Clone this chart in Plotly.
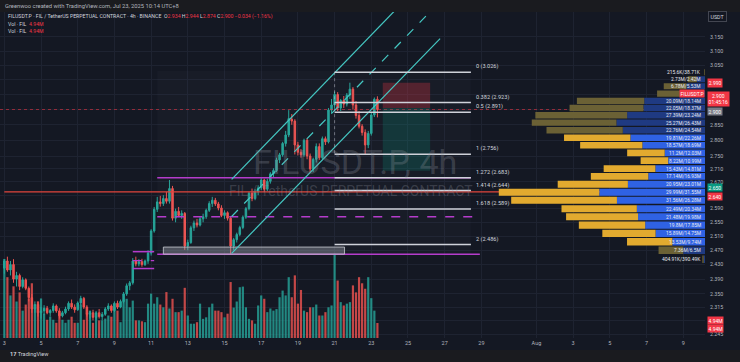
import math
from datetime import datetime, timedelta
import plotly.graph_objects as go

# ---------------- data ----------------
opens = [2.420,2.440,2.415,2.430,2.390,2.400,2.370,2.388,2.365,2.340,2.310,2.322,
         2.300,2.305,2.312,2.300,2.306,2.318,2.305,2.292,2.300,2.310,2.325,2.315,
         2.308,2.326,2.338,2.315,2.296,2.300,2.288,2.300,2.290,2.296,2.310,2.318,
         2.306,2.325,2.315,2.330,2.350,2.372,2.380,2.440,2.432,2.438,2.430,2.440,
         2.462,2.525,2.588,2.610,2.605,2.620,2.612,2.650,2.562,2.582,2.570,2.576,
         2.482,2.492,2.534,2.548,2.542,2.560,2.566,2.585,2.605,2.615,2.604,2.592,
         2.570,2.578,2.562,2.482,2.500,2.515,2.535,2.565,2.590,2.636,2.620,2.640,
         2.652,2.676,2.648,2.672,2.695,2.705,2.738,2.754,2.790,2.817,2.868,2.862,
         2.785,2.762,2.754,2.800,2.750,2.710,2.740,2.780,2.745,2.805,2.795,2.898,
         2.915,2.950,2.905,2.930,2.918,2.948,2.968,2.915,2.880,2.845,2.825,2.785,
         2.822,2.882,2.934]
highs = [2.445,2.452,2.440,2.445,2.410,2.405,2.395,2.392,2.370,2.350,2.330,2.330,
         2.315,2.320,2.318,2.310,2.325,2.322,2.312,2.305,2.316,2.330,2.335,2.322,
         2.330,2.345,2.342,2.320,2.305,2.308,2.305,2.310,2.302,2.315,2.325,2.322,
         2.330,2.332,2.335,2.355,2.378,2.385,2.448,2.452,2.445,2.446,2.444,2.470,
         2.530,2.595,2.625,2.628,2.630,2.640,2.676,2.658,2.590,2.595,2.585,2.580,
         2.500,2.540,2.555,2.560,2.565,2.575,2.590,2.612,2.625,2.622,2.610,2.600,
         2.585,2.582,2.568,2.505,2.520,2.540,2.570,2.595,2.640,2.650,2.648,2.660,
         2.685,2.680,2.680,2.700,2.712,2.745,2.760,2.795,2.830,2.898,2.885,2.868,
         2.795,2.772,2.805,2.806,2.758,2.745,2.790,2.790,2.812,2.812,2.905,2.935,
         2.960,2.958,2.935,2.945,2.955,2.990,2.975,2.928,2.895,2.852,2.835,2.830,
         2.890,2.940,2.944]
lows = [2.405,2.410,2.400,2.380,2.370,2.360,2.365,2.360,2.330,2.300,2.300,2.290,
        2.285,2.295,2.296,2.290,2.300,2.300,2.285,2.288,2.296,2.305,2.310,2.300,
        2.305,2.320,2.310,2.290,2.285,2.280,2.282,2.285,2.280,2.292,2.305,2.300,
        2.302,2.310,2.312,2.325,2.345,2.360,2.375,2.425,2.425,2.424,2.426,2.432,
        2.455,2.520,2.580,2.596,2.598,2.605,2.605,2.555,2.550,2.565,2.560,2.471,
        2.470,2.488,2.525,2.535,2.538,2.550,2.560,2.580,2.595,2.598,2.585,2.565,
        2.560,2.555,2.459,2.470,2.492,2.510,2.530,2.560,2.585,2.612,2.615,2.630,
        2.645,2.640,2.642,2.665,2.685,2.700,2.728,2.748,2.780,2.810,2.850,2.755,
        2.752,2.745,2.748,2.740,2.700,2.700,2.730,2.738,2.740,2.785,2.790,2.885,
        2.905,2.895,2.895,2.905,2.910,2.935,2.900,2.870,2.838,2.815,2.754,2.775,
        2.815,2.875,2.874]
closes = [2.440,2.415,2.430,2.390,2.400,2.370,2.388,2.365,2.340,2.310,2.322,2.300,
          2.305,2.312,2.300,2.306,2.318,2.305,2.292,2.300,2.310,2.325,2.315,2.308,
          2.326,2.338,2.315,2.296,2.300,2.288,2.300,2.290,2.296,2.310,2.318,2.306,
          2.325,2.315,2.330,2.350,2.372,2.380,2.440,2.432,2.438,2.430,2.440,2.462,
          2.525,2.588,2.610,2.605,2.620,2.612,2.650,2.562,2.582,2.570,2.576,2.482,
          2.492,2.534,2.548,2.542,2.560,2.566,2.585,2.605,2.615,2.604,2.592,2.570,
          2.578,2.562,2.482,2.500,2.515,2.535,2.565,2.590,2.636,2.620,2.640,2.652,
          2.676,2.648,2.672,2.695,2.705,2.738,2.754,2.790,2.817,2.870,2.862,2.785,
          2.762,2.754,2.800,2.750,2.710,2.740,2.780,2.745,2.805,2.795,2.898,2.915,
          2.950,2.905,2.930,2.918,2.948,2.968,2.915,2.880,2.845,2.825,2.785,2.822,
          2.882,2.934,2.900]
volumes_m = [26,20,14,17,12,15,9,11,13,18,10,12,
             13,8,6,7,6,5,8,6,5,6,7,5,
             5,11,6,8,9,5,7,5.8,5.8,6.4,7.4,7.0,
             10.1,9.0,5.2,12.3,12.9,10.1,12.3,5.8,5.8,5.5,5.2,11.3,
             14.6,11.3,13.4,11.0,10.1,15.1,9.7,12.9,8.5,8.5,9.0,16.5,
             7.4,4.7,4.7,5.2,11.3,6.3,6.8,10.1,11.3,9.0,9.0,8.5,
             6.8,8.0,18.4,10.0,12.0,16.7,16.9,10.1,6.3,5.8,4.7,10.7,
             14.0,12.9,8.5,9.7,9.0,9.5,13.4,15.6,14.0,20.0,13.4,20.6,
             11.3,15.8,9.0,8.5,10.1,10.1,11.0,7.4,7.4,8.5,10.1,10.7,
             27.7,18.9,11.8,10.7,11.3,11.8,17.3,15.0,20.0,18.0,16.2,20.0,
             13.1,9.0,4.94]
first_bar = datetime(2025, 7, 3, 0, 0)
bar_hours = 4

price_ticks = [3.15, 3.10, 3.05, 3.00, 2.95, 2.90, 2.85, 2.80, 2.75, 2.71, 2.67, 2.63,
               2.59, 2.55, 2.51, 2.47, 2.43, 2.39, 2.35, 2.315, 2.28, 2.245]
# ticks whose text is covered by price badges in the picture
price_ticks_covered = [3.00, 2.95, 2.90, 2.63, 2.28]
date_ticks = ["2025-07-03", "2025-07-05", "2025-07-07", "2025-07-09", "2025-07-11",
              "2025-07-13", "2025-07-15", "2025-07-17", "2025-07-19", "2025-07-21",
              "2025-07-23", "2025-07-25", "2025-07-27", "2025-07-29", "2025-08-01",
              "2025-08-03", "2025-08-05", "2025-08-07", "2025-08-09"]
date_labels = ["3", "5", "7", "9", "11", "13", "15", "17", "19", "21", "23", "25",
               "27", "29", "Aug", "3", "5", "7", "9"]

# visible-range volume profile rows (price centre, first value = yellow, second = blue)
vp_prices = [3.026, 3.002, 2.978, 2.953, 2.929, 2.905, 2.881, 2.857, 2.832, 2.808,
             2.784, 2.760, 2.736, 2.711, 2.687, 2.663, 2.639, 2.615, 2.590, 2.566,
             2.542, 2.518, 2.494, 2.470, 2.445]
vp_yellow = [0.2156, 2.73, 6.78, 7.6, 20.09, 22.05, 27.39, 25.27, 22.76, 19.81,
             18.57, 11.2, 8.22, 15.43, 17.14, 20.95, 29.99, 31.56, 22.49, 21.48,
             19.8, 15.89, 13.53, 7.36, 0.40491]
vp_blue = [0.03871, 2.42, 5.53, 6.7, 18.14, 18.37, 23.24, 26.43, 24.54, 22.26,
           18.69, 12.03, 10.99, 14.81, 16.93, 23.01, 31.55, 26.28, 20.34, 19.98,
           17.85, 14.75, 9.74, 6.5, 0.39049]
# row 4 label is hidden behind the symbol badge in the picture
vp_labels = ["215.6K/38.71K", "2.73M/2.42M", "6.78M/5.53M", "", "20.09M/18.14M",
             "22.05M/18.37M", "27.39M/23.24M", "25.27M/26.43M", "22.76M/24.54M",
             "19.81M/22.26M", "18.57M/18.69M", "11.2M/12.03M", "8.22M/10.99M",
             "15.43M/14.81M", "17.14M/16.93M", "20.95M/23.01M", "29.99M/31.55M",
             "31.56M/26.28M", "22.49M/20.34M", "21.48M/19.98M", "19.8M/17.85M",
             "15.89M/14.75M", "13.53M/9.74M", "7.36M/6.5M", "404.91K/390.49K"]
vp_value_area = [0, 0, 0, 0, 0, 0, 0, 0, 0, 1, 1, 1, 1, 1, 1, 1, 1, 1, 1, 1, 1, 1, 1, 0, 0]

fib_names = ["0", "0.382", "0.5", "1", "1.272", "1.414", "1.618", "2"]
fib_prices = [3.026, 2.923, 2.891, 2.756, 2.683, 2.644, 2.589, 2.486]

last_price = 2.900
poc_price = 2.640

# ---------------- styling ----------------
BG = "#141823"
GRID = "#1e2331"
TXT = "#b2b5be"
UP = "#26a69a"
DN = "#ef5350"
MAG = "#b53ccc"
CYAN = "#45c8c3"
FIBC = "#cfd2da"
FONT = "Roboto"

n = len(opens)
times = [first_bar + timedelta(hours=bar_hours * i) for i in range(n)]
x_start = "2025-07-02 18:20"
x_end = "2025-08-10 04:30"
y_lo, y_hi = 2.2348, 3.241

fig = go.Figure()


def line(xs, ys, color, width=1.0, dash="solid", xa="x", ya="y2", opacity=1.0):
    fig.add_trace(go.Scatter(x=xs, y=ys, mode="lines", xaxis=xa, yaxis=ya,
                             line=dict(color=color, width=width, dash=dash),
                             opacity=opacity, hoverinfo="skip", showlegend=False))


def box(x0, x1, p0, p1, fill, border=None, xa="x", ya="y2"):
    fig.add_trace(go.Scatter(x=[x0, x1, x1, x0, x0], y=[p0, p0, p1, p1, p0],
                             mode="lines", fill="toself", fillcolor=fill, xaxis=xa, yaxis=ya,
                             line=dict(color=border or "rgba(0,0,0,0)", width=1),
                             hoverinfo="skip", showlegend=False))


# subtle range background
box("2025-07-11 08:00", "2025-07-28 10:00", 2.459, 3.030, "rgba(140,150,180,0.035)")

# volume
vcol = [UP if c >= o else DN for o, c in zip(opens, closes)]
fig.add_trace(go.Bar(x=times, y=volumes_m, marker=dict(color=vcol, line=dict(width=0)),
                     width=bar_hours * 3600 * 1000 * 0.72, opacity=0.8,
                     xaxis="x", yaxis="y", hoverinfo="skip", showlegend=False))

# candles
fig.add_trace(go.Candlestick(x=times, open=opens, high=highs, low=lows, close=closes,
                             increasing=dict(line=dict(color=UP, width=1), fillcolor=UP),
                             decreasing=dict(line=dict(color=DN, width=1), fillcolor=DN),
                             whiskerwidth=0, xaxis="x", yaxis="y2", hoverinfo="skip",
                             showlegend=False))

# volume profile
half = 0.0104
groups = {
    ("blue", 1): "#2f62e4", ("blue", 0): "#1f3a82",
    ("yel", 1): "#e2aa2f", ("yel", 0): "#6b6135",
}
for (kind, va), col in groups.items():
    xs, ys = [], []
    for p, yv, bv, inva in zip(vp_prices, vp_yellow, vp_blue, vp_value_area):
        if inva != va:
            continue
        a, b = (0, bv) if kind == "blue" else (bv, bv + yv)
        xs += [a, b, b, a, a, None]
        ys += [p - half, p - half, p + half, p + half, p - half, None]
    fig.add_trace(go.Scatter(x=xs, y=ys, mode="lines", fill="toself", fillcolor=col,
                             line=dict(width=0, color=col), xaxis="x2", yaxis="y2",
                             hoverinfo="skip", showlegend=False))

# POC line & last price line
line(["2025-07-03 00:00", x_end], [poc_price, poc_price], "#e0453d", 1.4)
line([x_start, x_end], [last_price, last_price], "rgba(242,54,69,0.55)", 1, "dot")

# short position tool
box("2025-07-23 15:00", "2025-07-26 05:00", 2.905, 2.990, "rgba(242,54,69,0.28)")
box("2025-07-23 15:00", "2025-07-26 05:00", 2.704, 2.905, "rgba(8,153,129,0.22)")

# magenta range boxes
line(["2025-07-10 00:00", "2025-07-11 04:00"], [2.466, 2.466], MAG, 1.5)
line(["2025-07-10 00:00", "2025-07-11 04:00"], [2.441, 2.441], MAG, 1.2, "dash")
line(["2025-07-10 00:00", "2025-07-11 04:00"], [2.419, 2.419], MAG, 1.5)
line(["2025-07-11 08:00", "2025-07-28 10:00"], [2.683, 2.683], MAG, 1.5)
line(["2025-07-11 08:00", "2025-07-28 22:00"], [2.566, 2.566], MAG, 1.5, "dash")
line(["2025-07-11 08:00", "2025-07-28 22:00"], [2.459, 2.459], MAG, 1.5)

# gray zone
box("2025-07-11 16:00", "2025-07-21 13:00", 2.459, 2.479, "rgba(160,165,175,0.40)", "rgba(200,203,210,0.8)")

# parallel channel
ch_t = ["2025-07-15 09:20", "2025-07-26 18:00"]
line(ch_t, [2.678, 3.424], CYAN, 1.2)
line(ch_t, [2.567, 3.280], CYAN, 1.2, "dash")
line(ch_t, [2.461, 3.144], CYAN, 1.2)

# fib retracement
fib_t = ["2025-07-21 00:00", "2025-07-28 10:20"]
line([fib_t[0], fib_t[0]], [fib_prices[0], fib_prices[3]], "rgba(200,203,210,0.6)", 0.8, "dot")
for p in fib_prices:
    line(fib_t, [p, p], FIBC, 1.5)

# ---------------- annotations ----------------
ann = []
L10 = math.log10


def txt(text, x, y, xref, yref, size=5.3, color=TXT, xanchor="left", yanchor="middle",
        bg=None, yshift=0, border=None, pad=1):
    d = dict(text=text, x=x, y=y, xref=xref, yref=yref, showarrow=False,
             font=dict(family=FONT, size=size, color=color), xanchor=xanchor,
             yanchor=yanchor, yshift=yshift, borderpad=pad)
    if bg:
        d["bgcolor"] = bg
    if border:
        d["bordercolor"] = border
        d["borderwidth"] = 1
    ann.append(d)


# watermark
txt("FILUSDT.P, 4h", 0.503, 0.540, "paper", "paper", 34, "rgba(140,144,155,0.30)", "center")
txt("FIL / TetherUS PERPETUAL CONTRACT", 0.498, 0.452, "paper", "paper", 14,
    "rgba(140,144,155,0.30)", "center")

# fib labels
for name, p in zip(fib_names, fib_prices):
    txt(f"{name} ({p:.3f})", "2025-07-28 14:00", L10(p), "x", "y2", 5.6, "#d1d4dc", yshift=5.5)

# volume profile labels
for p, lab in zip(vp_prices, vp_labels):
    if lab:
        txt(lab, 0.6, L10(p), "x2", "y2", 4.9, "#e8eaf0", "right")

# header
txt("Greenwoo created with TradingView.com, Jul 23, 2025 10:14 UTC+8", 0.004, 1.0184,
    "paper", "paper", 5.8, "#b2b5be")
R = "<span style='color:#f23645'>%s</span>"
head = ("FILUSDT.P · FIL / TetherUS PERPETUAL CONTRACT · 4h · BINANCE  "
        "O" + R % "2.934" + " H" + R % "2.944" + " L" + R % "2.874" + " C" + R % "2.900" +
        " " + R % "−0.034 (−1.16%)")
txt(head, 0.009, 0.9856, "paper", "paper", 5.2, "#d1d4dc")
txt("Vol · FIL  " + R % "4.94M", 0.009, 0.9623, "paper", "paper", 5.2, "#d1d4dc")
txt("Vol · FIL  " + R % "4.94M", 0.009, 0.9426, "paper", "paper", 5.2, "#d1d4dc")

# axis badges
txt("USDT", 1.004, 0.9847, "paper", "paper", 5.3, "#d1d4dc", bg="#131722", border="#434651", pad=1.5)
txt("2.990", 1.003, L10(2.990), "paper", "y2", 5.0, "white", bg="#f23645", pad=0.8)
txt("FILUSDT.P", 1.0, L10(last_price), "paper", "y2", 5.0, "white", "right", bg="#f23645",
    yshift=15.5, pad=0.6)
txt("2.900<br>01:45:16", 1.003, L10(last_price), "paper", "y2", 5.0, "white", bg="#f23645",
    yshift=10.5, pad=0.6)
txt("2.900", 1.003, L10(last_price), "paper", "y2", 5.0, "white", bg="#787b86", yshift=-2.5, pad=0.6)
txt("2.650", 1.003, L10(2.650), "paper", "y2", 5.0, "white", bg="#089981", yshift=1.5, pad=0.6)
txt("2.640", 1.003, L10(2.640), "paper", "y2", 5.0, "white", bg="#f23645", yshift=-5, pad=0.6)
txt("4.94M", 1.003, 4.94, "paper", "y", 5.0, "white", bg="#f23645", yshift=2.5, pad=0.6)
txt("4.94M", 1.003, 4.94, "paper", "y", 5.0, "white", bg="#f23645", yshift=-6, pad=0.6)

# TradingView logo
txt("<b>17</b> TradingView", 0.011, -0.05, "paper", "paper", 5.6, "#d1d4dc")

strip = "#1a1b1f"
shapes = [
    dict(type="rect", xref="paper", yref="paper", x0=-0.01, x1=1.06, y0=1.0, y1=1.05,
         fillcolor=strip, line=dict(width=0), layer="below"),
    dict(type="rect", xref="paper", yref="paper", x0=-0.01, x1=1.06, y0=-0.08, y1=-0.0368,
         fillcolor=strip, line=dict(width=0), layer="below"),
]

fig.update_layout(
    width=740, height=362,
    margin=dict(l=0, r=35, t=12, b=24),
    paper_bgcolor=BG, plot_bgcolor=BG,
    showlegend=False, hovermode=False, barmode="overlay",
    annotations=ann, shapes=shapes,
    xaxis=dict(type="date", range=[x_start, x_end], tickvals=date_ticks, ticktext=date_labels,
               showgrid=True, gridcolor=GRID, gridwidth=1, zeroline=False, showline=False,
               ticks="", tickfont=dict(family=FONT, size=5.5, color=TXT),
               rangeslider=dict(visible=False), fixedrange=True),
    xaxis2=dict(overlaying="x", range=[210.4, 0], visible=False, fixedrange=True),
    yaxis=dict(range=[0, 107.2], visible=False, fixedrange=True),
    yaxis2=dict(type="log", overlaying="y", side="right",
                range=[L10(y_lo), L10(y_hi)], tickvals=price_ticks,
                ticktext=["" if v in price_ticks_covered else f"{v:.3f}" for v in price_ticks],
                showgrid=True, gridcolor=GRID, gridwidth=1, zeroline=False, showline=False,
                ticks="", tickfont=dict(family=FONT, size=5.3, color=TXT),
                ticklabelstandoff=4, fixedrange=True),
)

fig.write_html("out.html", config={"displayModeBar": False},
               post_script="document.body.style.margin='0';document.body.style.overflow='hidden';")
